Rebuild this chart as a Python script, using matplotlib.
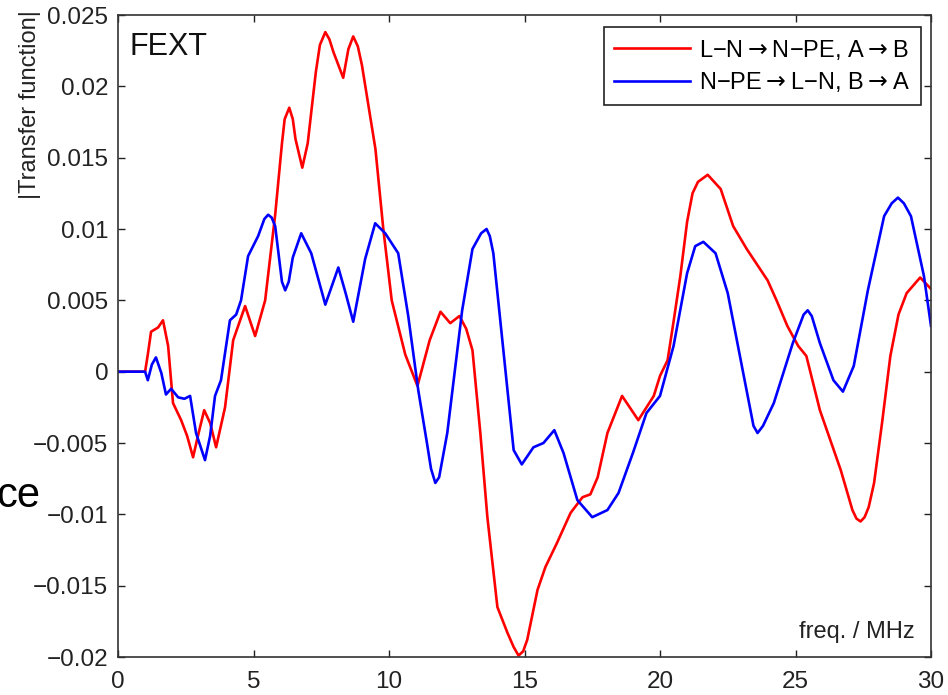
import numpy as np
import matplotlib.pyplot as plt

plt.rcParams['font.family'] = ['Liberation Sans', 'DejaVu Sans']
plt.rcParams['mathtext.fontset'] = 'dejavusans'

# red: L-N -> N-PE, A -> B
red_f = [0, 1.0, 1.1, 1.22, 1.48, 1.66, 1.85, 2.03, 2.33, 2.55, 2.77, 2.95, 3.18, 3.4,
         3.62, 3.95, 4.25, 4.69, 5.06, 5.43, 5.8, 6.05, 6.15, 6.32, 6.45, 6.55, 6.8, 7.0,
         7.3, 7.45, 7.65, 7.8, 7.95, 8.31, 8.5, 8.68, 8.85, 9.0, 9.5, 9.79, 10.1, 10.6,
         11.05, 11.5, 11.9, 12.26, 12.6, 12.85, 13.08, 13.37, 13.63, 14.0, 14.37, 14.6,
         14.78, 14.95, 15.1, 15.48, 15.77, 16.2, 16.7, 17.14, 17.43, 17.7, 18.06, 18.6,
         19.2, 19.77, 20.0, 20.28, 20.5, 20.75, 21.0, 21.2, 21.4, 21.76, 22.24, 22.7, 23.2,
         23.97, 24.3, 24.7, 25.1, 25.4, 25.9, 26.67, 27.1, 27.25, 27.4, 27.55, 27.7, 27.9,
         28.2, 28.5, 28.8, 29.1, 29.6, 30.0]
red_h = [0, 0, 0.0012, 0.0028, 0.0031, 0.0036, 0.0018, -0.0022, -0.0034, -0.0045, -0.0060,
         -0.0045, -0.0027, -0.0036, -0.0053, -0.0025, 0.0022, 0.0046, 0.0025, 0.0050,
         0.0110, 0.0160, 0.0177, 0.0185, 0.0177, 0.0163, 0.0143, 0.0160, 0.0210, 0.0229,
         0.0238, 0.0233, 0.0224, 0.0206, 0.0226, 0.0235, 0.0228, 0.0215, 0.0156, 0.0100,
         0.0050, 0.0012, -0.0010, 0.0022, 0.0042, 0.0034, 0.0039, 0.0030, 0.0015, -0.0043,
         -0.0102, -0.0165, -0.0183, -0.0193, -0.0199, -0.0196, -0.0188, -0.0153, -0.0137,
         -0.0120, -0.0099, -0.0088, -0.0086, -0.0074, -0.0043, -0.0017, -0.0034, -0.0017,
         -0.0003, 0.0008, 0.0035, 0.0067, 0.0105, 0.0125, 0.0133, 0.0138, 0.0128, 0.0102,
         0.0086, 0.0064, 0.0050, 0.0032, 0.0018, 0.0011, -0.0027, -0.0069, -0.0097, -0.0103,
         -0.0105, -0.0102, -0.0095, -0.0078, -0.0035, 0.0011, 0.0040, 0.0055, 0.0066, 0.0058]

# blue: N-PE -> L-N, B -> A
blue_f = [0, 1.0, 1.1, 1.25, 1.4, 1.6, 1.77, 1.96, 2.22, 2.45, 2.66, 2.88, 3.21, 3.4, 3.58,
          3.8, 4.13, 4.36, 4.54, 4.8, 5.17, 5.4, 5.54, 5.67, 5.8, 6.05, 6.17, 6.3, 6.45,
          6.76, 7.13, 7.65, 8.13, 8.4, 8.68, 9.12, 9.49, 9.86, 10.34, 10.71, 11.08, 11.4,
          11.55, 11.71, 11.85, 12.15, 12.7, 13.08, 13.4, 13.6, 13.72, 13.85, 14.22, 14.6,
          14.9, 15.33, 15.7, 16.1, 16.44, 16.95, 17.5, 18.06, 18.47, 19.0, 19.5, 20.0, 20.5,
          21.0, 21.3, 21.6, 22.05, 22.5, 23.0, 23.45, 23.6, 23.8, 24.2, 24.9, 25.3, 25.45,
          25.6, 25.9, 26.4, 26.75, 27.15, 27.67, 28.27, 28.55, 28.78, 29.0, 29.26, 29.74, 30.0]
blue_h = [0, 0, -0.0006, 0.0005, 0.0010, -0.0001, -0.0016, -0.0012, -0.0018, -0.0019,
          -0.0017, -0.0043, -0.0062, -0.0045, -0.0017, -0.0006, 0.0036, 0.0040, 0.0050,
          0.0081, 0.0095, 0.0107, 0.0110, 0.0108, 0.0102, 0.0063, 0.0057, 0.0063, 0.0080,
          0.0097, 0.0083, 0.0047, 0.0073, 0.0055, 0.0035, 0.0079, 0.0104, 0.0097, 0.0083,
          0.0039, -0.0013, -0.0050, -0.0068, -0.0078, -0.0074, -0.0043, 0.0043, 0.0086,
          0.0097, 0.0100, 0.0095, 0.0083, 0.0015, -0.0055, -0.0065, -0.0053, -0.0050,
          -0.0041, -0.0057, -0.0090, -0.0102, -0.0097, -0.0085, -0.0057, -0.0029, -0.0017,
          0.0018, 0.0069, 0.0088, 0.0091, 0.0083, 0.0055, 0.0006, -0.0038, -0.0043, -0.0038,
          -0.0022, 0.0020, 0.0040, 0.0043, 0.0039, 0.0020, -0.0006, -0.0014, 0.0004, 0.0057,
          0.0109, 0.0118, 0.0122, 0.0118, 0.0109, 0.0067, 0.0032]

xticks = [0, 5, 10, 15, 20, 25, 30]
yticks = [-0.02, -0.015, -0.01, -0.005, 0, 0.005, 0.01, 0.015, 0.02, 0.025]
ytick_labels = ['\u22120.02', '\u22120.015', '\u22120.01', '\u22120.005', '0',
                '0.005', '0.01', '0.015', '0.02', '0.025']

fig = plt.figure(figsize=(9.48, 6.95), dpi=100)
ax = fig.add_axes([118/948, 1 - 657/695, 813/948, 642/695])

arrow = '${\\rightarrow}$'
ax.plot(red_f, red_h, color='#ff0000', lw=1.9,
        label='L\u2212N' + arrow + 'N\u2212PE, A' + arrow + 'B')
ax.plot(blue_f, blue_h, color='#0000ff', lw=1.9,
        label='N\u2212PE' + arrow + 'L\u2212N, B' + arrow + 'A')

ax.set_xlim(0, 30)
ax.set_ylim(-0.02, 0.025)
ax.set_xticks(xticks)
ax.set_yticks(yticks)
ax.set_yticklabels(ytick_labels)
ax.tick_params(direction='in', length=5, width=1, top=True, right=True,
               labelsize=17.5, colors='#222222')
ax.tick_params(axis='x', pad=10)
ax.tick_params(axis='y', pad=7)
for s in ax.spines.values():
    s.set_color('#333333')
    s.set_linewidth(1.2)

leg = ax.legend(loc='upper right', bbox_to_anchor=(921/948, 1 - 27/695),
                bbox_transform=fig.transFigure, fontsize=17, fancybox=False,
                framealpha=1, edgecolor='#222222', handlelength=3.2,
                borderpad=0.45, labelspacing=0.35, handletextpad=0.4, borderaxespad=0)
leg.get_frame().set_linewidth(1.2)

ax.text(12/813, 1 - 17/642, 'FEXT', transform=ax.transAxes, fontsize=22,
        ha='left', va='top', color='#111111')
ax.text(915/948, 1 - 638/695, 'freq. / MHz', transform=fig.transFigure, fontsize=17,
        ha='right', va='baseline', color='#222222')
fig.text(30/948, 1 - 10/695, '|Transfer function|', rotation=90, fontsize=17,
         ha='center', va='top', color='#222222')
fig.text(40/948, 1 - 507/695, 'ce', fontsize=30, ha='right', va='baseline', color='black')

fig.savefig('out.png', dpi=100)
